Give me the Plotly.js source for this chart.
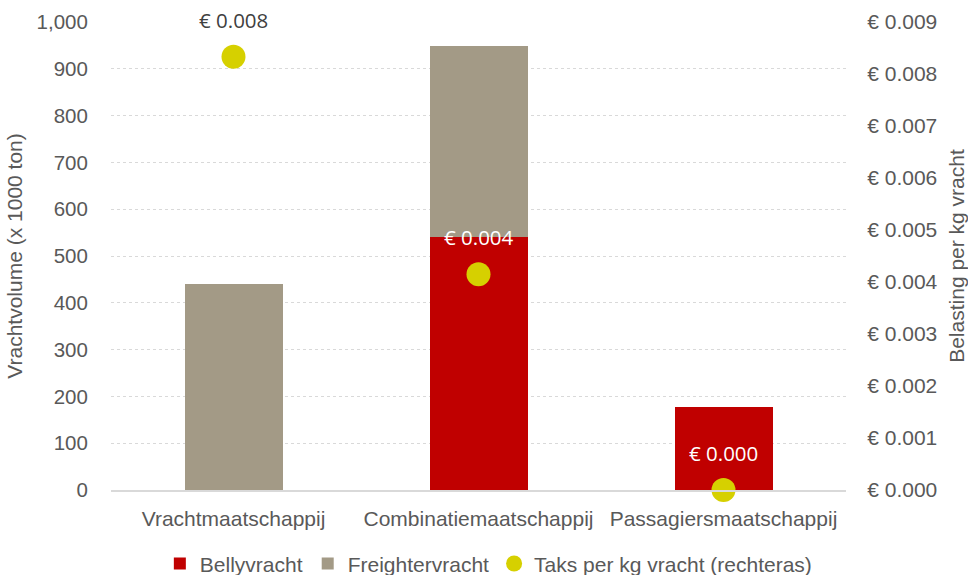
<!DOCTYPE html>
<html><head><meta charset="utf-8">
<script src="https://cdn.plot.ly/plotly-3.0.1.min.js"></script>
<style>body{margin:0;background:#fff}#c{width:968px;height:575px}</style>
</head><body><div id="c"></div>
<script>
const categories = ['Vrachtmaatschappij', 'Combinatiemaatschappij', 'Passagiersmaatschappij'];
const belly = [0, 540, 177];
const freighter = [440, 408, 0];
const taks = [0.00833, 0.00415, 0.0];
const taksLabels = ['€ 0.008', '€ 0.004', '€ 0.000'];
const labelColors = ['#404040', '#ffffff', '#ffffff'];

const tickFont = {family: 'Liberation Sans, Arial, sans-serif', size: 21, color: '#595959'};
const yTickFont = {family: 'Liberation Sans, Arial, sans-serif', size: 20.5, color: '#595959'};

const traces = [
  {type: 'bar', name: 'Bellyvracht', x: categories, y: belly, marker: {color: '#C00000'}, yaxis: 'y'},
  {type: 'bar', name: 'Freightervracht', x: categories, y: freighter, marker: {color: '#A39A86'}, yaxis: 'y'},
  {type: 'scatter', mode: 'markers', name: 'Taks per kg vracht (rechteras)', x: categories, y: taks,
   marker: {color: '#D6D000', size: 24}, yaxis: 'y2', cliponaxis: false}
];

const annotations = categories.map((c, i) => ({
  x: c, y: taks[i], xref: 'x', yref: 'y2', text: taksLabels[i], showarrow: false,
  yshift: 37, font: {family: 'Open Sans, sans-serif', size: 20.5, color: labelColors[i]}
}));

const layout = {
  width: 968, height: 575,
  margin: {l: 111, r: 122, t: 22, b: 85},
  paper_bgcolor: '#fff', plot_bgcolor: '#fff',
  barmode: 'stack', bargap: 0.6,
  font: tickFont,
  showlegend: true,
  legend: {orientation: 'h', traceorder: 'normal', x: 0.505, xanchor: 'center', xref: 'container',
           y: 0.055, yanchor: 'top', yref: 'container', font: tickFont, itemwidth: 30},
  xaxis: {showline: true, linecolor: '#D9D9D9', linewidth: 2, tickfont: tickFont, showgrid: false,
          ticks: 'outside', ticklen: 9, tickcolor: 'rgba(0,0,0,0)'},
  yaxis: {range: [0, 1000], dtick: 100, tickformat: ',d', gridcolor: '#D9D9D9', griddash: 'dot', gridwidth: 1,
          zeroline: false, tickfont: yTickFont, ticks: 'outside', ticklen: 18, tickcolor: 'rgba(0,0,0,0)',
          title: {text: 'Vrachtvolume (x 1000 ton)', font: tickFont, standoff: 8}},
  yaxis2: {overlaying: 'y', side: 'right', range: [0, 0.009], dtick: 0.001, tickformat: '.3f', tickprefix: '€ ',
           showgrid: false, zeroline: false, tickfont: tickFont, ticks: 'outside', ticklen: 16, tickcolor: 'rgba(0,0,0,0)',
           title: {text: 'Belasting per kg vracht', font: tickFont, standoff: 12}},
  annotations: annotations
};

Plotly.newPlot('c', traces, layout, {staticPlot: true});
</script></body></html>
